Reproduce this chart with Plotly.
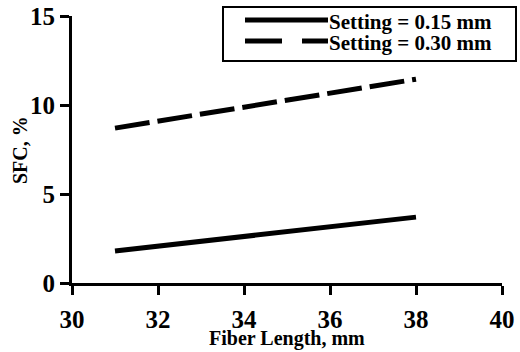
import plotly.graph_objects as go

# Data
fiber_length_015 = [31, 38]
sfc_015 = [1.8, 3.7]
fiber_length_030 = [31, 38]
sfc_030 = [8.7, 11.45]

series_names = ["Setting = 0.15 mm", "Setting = 0.30 mm"]
x_ticks = [30, 32, 34, 36, 38, 40]
y_ticks = [0, 5, 10, 15]

FONT = "Liberation Serif, Times New Roman, Times, serif"

fig = go.Figure()
fig.add_trace(go.Scatter(x=fiber_length_015, y=sfc_015, mode="lines",
                         line=dict(color="black", width=5), name=series_names[0],
                         showlegend=False))
fig.add_trace(go.Scatter(x=fiber_length_030, y=sfc_030, mode="lines",
                         line=dict(color="black", width=5, dash="35px,8px"),
                         name=series_names[1], showlegend=False))

axis_common = dict(showgrid=False, zeroline=False, showline=True, linecolor="black",
                   linewidth=3, ticks="outside", ticklen=9, tickwidth=3,
                   tickcolor="black", automargin=False, ticklabeloverflow="allow",
                   tickfont=dict(family=FONT, size=25, color="black", weight="bold"))

fig.update_xaxes(range=[30, 40], tickvals=x_ticks, ticktext=[str(v) for v in x_ticks],
                 ticklabelstandoff=3, **axis_common)
fig.update_yaxes(range=[0, 15], tickvals=y_ticks, ticktext=[str(v) for v in y_ticks],
                 ticklabelstandoff=0, **axis_common)

# Legend drawn manually (box, sample lines, labels); helpers map reference pixels
# to paper coordinates of the plotting area (x: 72..502, y: 283..16 in the reference)
def px2paper_x(px):
    return (px - 72) / 430.0

def px2paper_y(py):
    return (283 - py) / 267.0

fig.add_shape(type="rect", xref="paper", yref="paper",
              x0=px2paper_x(223), x1=px2paper_x(516), y0=px2paper_y(61), y1=px2paper_y(7),
              line=dict(color="black", width=2), fillcolor="white")
fig.add_shape(type="line", xref="paper", yref="paper",
              x0=px2paper_x(245), x1=px2paper_x(328), y0=px2paper_y(20), y1=px2paper_y(20),
              line=dict(color="black", width=5))
fig.add_shape(type="line", xref="paper", yref="paper",
              x0=px2paper_x(245), x1=px2paper_x(328), y0=px2paper_y(41), y1=px2paper_y(41),
              line=dict(color="black", width=5, dash="37px,20px"))
for name, py in zip(series_names, [22, 43]):
    fig.add_annotation(text=name, xref="paper", yref="paper",
                       x=px2paper_x(327), y=px2paper_y(py), xanchor="left", yanchor="middle",
                       showarrow=False,
                       font=dict(family=FONT, size=21, color="black", weight="bold"))

# Axis titles
fig.add_annotation(text="Fiber Length, mm", xref="paper", yref="paper",
                   x=0.5, y=px2paper_y(338), xanchor="center", yanchor="middle",
                   showarrow=False,
                   font=dict(family=FONT, size=20, color="black", weight="bold"))
fig.add_annotation(text="SFC, %", xref="paper", yref="paper",
                   x=px2paper_x(20), y=px2paper_y(150), xanchor="center", yanchor="middle",
                   textangle=-90, showarrow=False,
                   font=dict(family=FONT, size=20, color="black", weight="bold"))

fig.update_layout(width=520, height=352, margin=dict(l=72, r=18, t=16, b=69),
                  plot_bgcolor="white", paper_bgcolor="white", showlegend=False)

# Remove the default page margin so the figure sits at the window's top-left corner
fig.write_html("out.html", config={"displayModeBar": False},
               post_script="document.body.style.margin='0';document.body.style.overflow='hidden';")
